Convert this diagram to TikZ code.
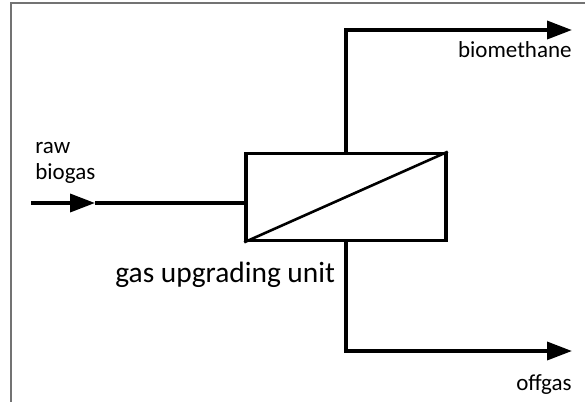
\documentclass[tikz,border=0pt]{standalone}
\usepackage{fontspec}
\setmainfont{Carlito}
\usetikzlibrary{arrows.meta}

\begin{document}
\begin{tikzpicture}[
  x=0.5pt, y=-0.5pt,
  font=\fontsize{11.5}{12.5}\selectfont,
  unitbox/.style={draw, line width=1.8pt, minimum width=100pt, minimum height=43.5pt, inner sep=0pt},
  pipe/.style={line width=1.8pt},
  arr/.style={pipe, -{Triangle[length=12.5pt, width=9pt]}},
  lbl/.style={inner sep=0pt},
  frame/.style={black!55, line width=1pt},
]
\useasboundingbox (0,0) rectangle (585,402);

%% ---------- frame ----------
\coordinate (fbot) at (11,402);
\coordinate (fcorner) at (11,3);
\coordinate (fright) at (585,3);
\draw[frame] (fbot) -- (fcorner) -- (fright);

%% ---------- upgrading unit ----------
\node[unitbox] (unit) at (346,197) {};
\draw[line width=1.3pt] (unit.south west) -- (unit.north east);
\node[lbl, anchor=base west, font=\fontsize{14.7}{16}\selectfont] (unitlbl) at (115,282) {gas upgrading unit};

%% ---------- feed ----------
\coordinate (feedin) at (31,203);
\coordinate (feedhead) at (95,203);
\draw[arr] (feedin) -- (feedhead);
\draw[pipe] (feedhead) -- (feedhead -| unit.west);
\node[lbl, anchor=base west] (rawlbl) at (35,153) {raw};
\node[lbl, anchor=base west] (biogaslbl) at (35,179) {biogas};

%% ---------- products ----------
\coordinate (bmend) at (572,30);
\coordinate (offend) at (572,351);
\draw[arr] (unit.north) |- (bmend);
\draw[arr] (unit.south) |- (offend);
\node[lbl, anchor=base east] (bmlbl) at (572,57) {biomethane};
\node[lbl, anchor=base east] (offlbl) at (572,390) {offgas};

\end{tikzpicture}
\end{document}
